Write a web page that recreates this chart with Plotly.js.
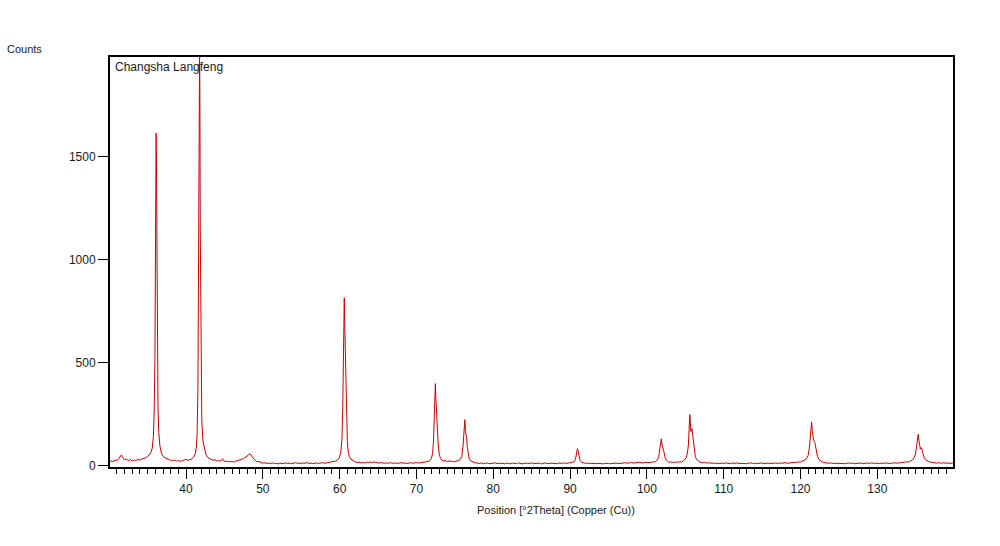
<!DOCTYPE html>
<html>
<head>
<meta charset="utf-8">
<script src="https://cdn.plot.ly/plotly-3.0.1.min.js"></script>
<style>
html,body{margin:0;padding:0;background:#fff;}
#chart{width:1000px;height:546px;}
</style>
</head>
<body>
<div id="chart"></div>
<script>
const twoTheta = [
30.0,30.25,30.5,30.75,31.0,31.25,31.5,31.6,31.75,32.0,32.25,32.5,32.75,33.0,33.25,33.5,33.75,34.0,34.25,34.5,34.75,35.0,35.25,35.4,35.6,35.75,35.85,35.95,36.0,36.05,36.1,36.15,36.2,36.25,36.3,36.35,36.45,36.6,36.8,37.0,37.25,37.5,37.75,38.0,38.25,38.5,38.75,39.0,39.25,39.5,39.75,
40.0,40.25,40.5,40.75,41.0,41.2,41.35,41.45,41.55,41.62,41.68,41.72,41.76,41.8,41.85,41.9,41.95,42.05,42.2,42.4,42.6,42.8,43.0,43.25,43.5,43.75,44.0,44.25,44.5,44.75,44.85,45.0,45.25,45.5,45.75,46.0,46.25,46.5,46.75,47.0,47.25,47.5,47.75,48.0,48.15,48.3,48.45,48.6,48.75,49.0,49.25,49.5,49.75,
50.0,50.25,50.5,50.75,51.0,51.25,51.5,51.75,52.0,52.25,52.5,52.75,53.0,53.25,53.5,53.75,54.0,54.25,54.5,54.75,55.0,55.25,55.5,55.75,56.0,56.25,56.5,56.75,57.0,57.25,57.5,57.75,58.0,58.25,58.5,58.75,59.0,59.25,59.5,59.75,59.95,
60.15,60.3,60.4,60.48,60.55,60.6,60.65,60.72,60.78,60.85,60.92,61.0,61.1,61.25,61.45,61.7,62.0,62.25,62.5,62.75,63.0,63.25,63.5,63.75,64.0,64.25,64.5,64.75,65.0,65.25,65.5,65.75,66.0,66.25,66.5,66.75,67.0,67.25,67.5,67.75,68.0,68.25,68.5,68.75,69.0,69.25,69.5,69.75,
70.0,70.25,70.5,70.75,71.0,71.25,71.5,71.75,71.95,72.1,72.22,72.32,72.4,72.46,72.52,72.6,72.66,72.74,72.82,72.95,73.1,73.3,73.5,73.75,74.0,74.1,74.25,74.5,74.75,75.0,75.25,75.5,75.7,75.9,76.05,76.15,76.25,76.3,76.38,76.45,76.52,76.6,76.7,76.85,77.0,77.25,77.5,77.75,78.0,78.25,78.5,78.75,79.0,79.25,79.5,79.75,
80.0,80.25,80.5,80.75,81.0,81.25,81.5,81.75,82.0,82.25,82.5,82.75,83.0,83.25,83.5,83.75,84.0,84.25,84.5,84.75,85.0,85.25,85.5,85.75,86.0,86.25,86.5,86.75,87.0,87.25,87.5,87.75,88.0,88.25,88.5,88.75,89.0,89.25,89.5,89.75,
90.0,90.25,90.5,90.7,90.85,90.95,91.05,91.15,91.3,91.5,91.75,92.0,92.25,92.5,92.75,93.0,93.25,93.5,93.75,94.0,94.25,94.5,94.75,95.0,95.25,95.5,95.75,96.0,96.25,96.5,96.75,97.0,97.25,97.5,97.75,98.0,98.25,98.5,98.75,99.0,99.25,99.5,99.75,
100.0,100.25,100.5,100.75,101.0,101.2,101.4,101.55,101.7,101.8,101.87,101.95,102.05,102.12,102.2,102.35,102.5,102.7,102.9,103.1,103.3,103.5,103.7,103.9,104.1,104.3,104.5,104.7,104.9,105.1,105.25,105.4,105.5,105.58,105.65,105.72,105.8,105.86,105.95,106.05,106.15,106.3,106.45,106.65,106.9,107.1,107.3,107.5,107.75,108.0,108.25,108.5,108.75,109.0,109.25,109.5,109.75,
110.0,110.25,110.5,110.75,111.0,111.25,111.5,111.75,112.0,112.25,112.5,112.75,113.0,113.25,113.5,113.75,114.0,114.25,114.5,114.75,115.0,115.25,115.5,115.75,116.0,116.25,116.5,116.75,117.0,117.25,117.5,117.75,118.0,118.25,118.5,118.75,119.0,119.25,119.5,119.75,
120.0,120.2,120.4,120.6,120.8,121.0,121.15,121.28,121.38,121.45,121.53,121.62,121.7,121.78,121.86,121.95,122.05,122.2,122.4,122.6,122.8,123.0,123.25,123.5,123.75,124.0,124.25,124.5,124.75,125.0,125.25,125.5,125.75,126.0,126.25,126.5,126.75,127.0,127.25,127.5,127.75,128.0,128.25,128.5,128.75,129.0,129.25,129.5,129.75,
130.0,130.25,130.5,130.75,131.0,131.25,131.5,131.75,132.0,132.25,132.5,132.75,133.0,133.25,133.5,133.75,134.0,134.2,134.4,134.6,134.8,134.95,135.1,135.22,135.32,135.42,135.5,135.6,135.7,135.78,135.87,135.97,136.1,136.3,136.5,136.75,137.0,137.25,137.5,137.75,138.0,138.25,138.5,138.75,139.0,139.25,139.5,139.75,139.95
];
const counts = [
18,22,20,27,25,33,48,52,40,28,31,24,29,22,27,25,30,26,32,35,38,45,52,62,85,140,260,520,1000,1480,1615,1470,1150,800,480,280,160,95,60,45,38,32,30,26,24,27,22,24,20,23,26,
30,25,28,33,42,58,90,160,380,900,1500,1880,1990,1830,1150,700,420,220,120,75,52,40,34,30,26,28,22,24,21,33,24,22,19,21,18,20,17,22,24,26,30,34,40,46,52,58,50,42,33,25,18,20,14,
12,14,10,12,9,13,10,11,8,12,9,11,13,10,12,9,11,14,10,12,9,13,11,15,10,12,9,11,13,10,12,14,11,13,15,14,17,19,22,28,38,
65,130,280,520,780,815,700,560,520,380,220,120,70,45,32,24,18,15,17,13,15,12,16,14,17,13,18,15,14,12,15,11,13,10,14,12,11,13,10,12,14,11,13,10,12,14,11,13,
15,12,14,16,15,18,20,25,35,60,120,240,360,398,330,260,245,180,110,60,38,27,22,25,19,24,20,22,18,20,22,25,30,45,90,160,215,223,165,150,140,95,60,35,25,18,15,13,12,10,13,9,11,12,9,11,
10,13,9,12,10,11,8,12,10,9,12,11,9,13,10,8,11,12,9,10,13,9,11,10,12,8,11,13,10,9,12,10,11,9,12,10,11,13,10,12,
13,15,18,30,60,82,70,48,25,16,13,11,12,9,11,10,12,9,11,10,8,11,12,10,9,11,10,12,9,11,13,12,14,11,13,15,12,14,13,16,14,12,16,
15,17,14,18,17,22,30,45,85,118,130,105,95,88,70,42,28,20,16,18,15,17,14,18,16,19,17,22,27,38,55,100,190,248,215,165,175,180,150,110,70,45,30,22,17,15,13,16,12,14,11,13,10,12,11,9,12,
10,13,11,9,12,10,11,13,9,11,10,12,9,11,13,10,12,9,11,10,13,9,11,12,10,11,9,12,10,13,11,12,14,11,13,15,14,16,15,18,
17,20,24,28,35,50,85,150,200,212,170,135,125,118,112,95,70,45,30,22,18,15,13,12,11,13,10,12,9,11,10,12,9,11,13,10,12,9,11,10,12,11,9,12,10,11,13,10,12,
11,9,12,10,13,11,12,10,13,12,14,12,15,14,16,18,17,20,24,28,38,55,90,130,152,120,95,80,88,85,68,50,38,28,22,18,16,14,13,12,14,11,13,12,11,13,12,11,12
];
const xTickVals = [40,50,60,70,80,90,100,110,120,130];
const yTickVals = [0,500,1000,1500];

const font = "'Liberation Sans', Arial, sans-serif";
const trace = {
  x: twoTheta, y: counts, type: 'scatter', mode: 'lines',
  line: {color: 'rgb(204,0,0)', width: 1},
  hoverinfo: 'skip'
};
const layout = {
  width: 1000, height: 546,
  paper_bgcolor: '#fff', plot_bgcolor: '#fff',
  margin: {l: 110, r: 47, t: 57, b: 79, pad: 0},
  showlegend: false,
  font: {family: font, size: 12, color: '#1a1a1a'},
  xaxis: {
    range: [30.1, 139.85], tickvals: xTickVals, ticktext: xTickVals.map(String),
    ticks: 'outside', ticklen: 10, tickwidth: 1, tickcolor: '#000',
    minor: {dtick: 1, tick0: 0, ticks: 'outside', ticklen: 5, tickwidth: 1, tickcolor: '#000', showgrid: false},
    showgrid: false, zeroline: false,
    showline: true, linecolor: '#000', linewidth: 2, mirror: true,
    tickfont: {family: font, size: 12, color: '#1a1a1a'}
  },
  yaxis: {
    range: [-7, 1985], tickvals: yTickVals, ticktext: yTickVals.map(String),
    ticks: 'outside', ticklen: 10, tickwidth: 1, tickcolor: '#000',
    showgrid: false, zeroline: false,
    showline: true, linecolor: '#000', linewidth: 2, mirror: true,
    tickfont: {family: font, size: 12, color: '#1a1a1a'}
  },
  annotations: [
    {text: 'Counts', xref: 'paper', yref: 'paper', x: -0.125, y: 1.0, xanchor: 'left', yanchor: 'bottom',
     showarrow: false, font: {family: font, size: 11, color: '#1a1a1a'}},
    {text: 'Changsha Langfeng', xref: 'paper', yref: 'paper', x: 0.004, y: 0.998, xanchor: 'left', yanchor: 'top',
     showarrow: false, font: {family: font, size: 12, color: '#1a1a1a'}},
    {text: 'Position [°2Theta] (Copper (Cu))', xref: 'paper', yref: 'paper', x: 0.529, y: -0.105, xanchor: 'center', yanchor: 'middle',
     showarrow: false, font: {family: font, size: 11, color: '#1a1a1a'}}
  ]
};
Plotly.newPlot('chart', [trace], layout, {staticPlot: true, displayModeBar: false});
</script>
</body>
</html>
